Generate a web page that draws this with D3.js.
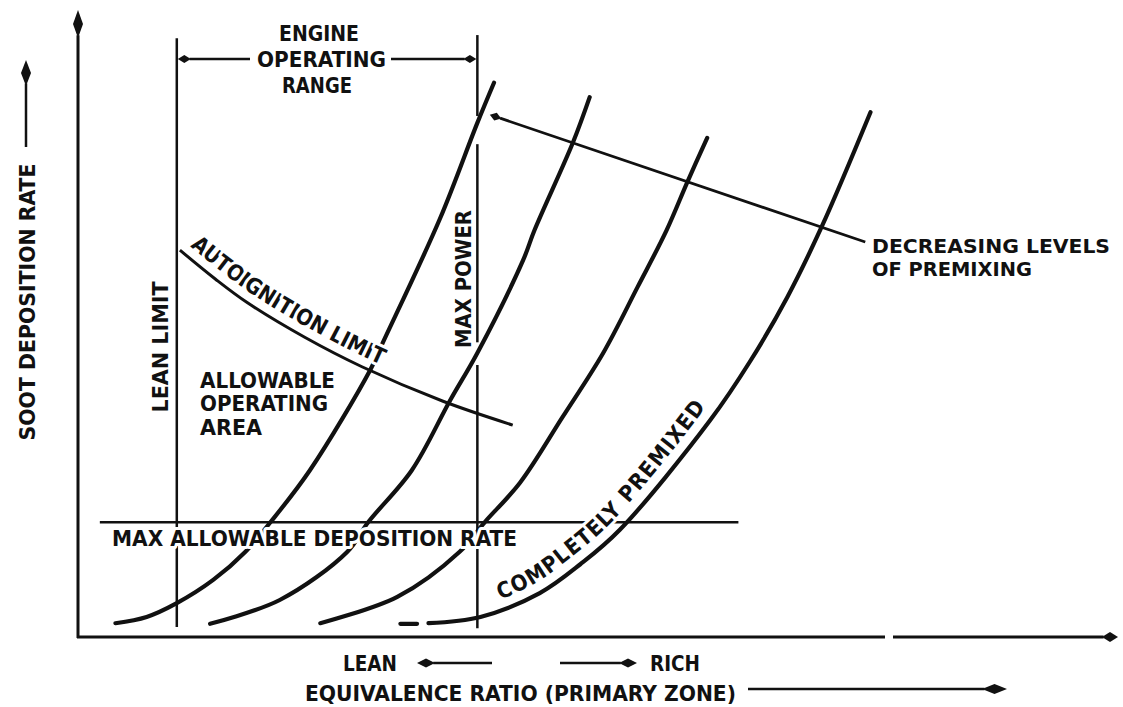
<!DOCTYPE html>
<html>
<head>
<meta charset="utf-8">
<title>Soot deposition rate vs equivalence ratio</title>
<script src="https://cdn.jsdelivr.net/npm/d3@7"></script>
<style>
  body { margin: 0; background: #fff; }
  svg text {
    font-family: "Liberation Sans Narrow", "DejaVu Sans Condensed", sans-serif;
    font-weight: bold;
    font-size: 22px;
    fill: #111;
  }
  .halo { paint-order: stroke; stroke: #fff; stroke-width: 6px; stroke-linejoin: round; }
</style>
</head>
<body>
<svg width="1123" height="707"></svg>
<script>
// arbitrary units: equivalence ratio 0-100 across, deposition rate 0-100 up
var curveA_phi  = [3.6, 6.6, 9.5, 13.0, 16.1, 18.5, 22.3, 28.1, 29.3, 34.8, 38.4, 40.0];
var curveA_rate = [2.2, 3.2, 5.4, 9.1, 13.6, 18.3, 26.6, 42.6, 46.9, 66.7, 82.0, 88.4];
var curveB_phi  = [12.7, 19.4, 25.9, 27.9, 32.1, 35.8, 38.4, 42.8, 43.9, 47.6, 49.2];
var curveB_rate = [2.1, 5.9, 13.6, 18.3, 26.6, 37.8, 45.3, 60.1, 64.9, 78.9, 86.1];
var curveC_phi  = [23.3, 30.7, 36.7, 39.1, 42.5, 46.6, 50.5, 53.8, 56.6, 58.6, 60.5];
var curveC_rate = [2.2, 6.4, 13.6, 18.3, 24.6, 35.1, 45.3, 55.8, 64.9, 72.6, 79.6];
var premixed_phi  = [33.7, 38.7, 44.4, 48.3, 52.1, 60.8, 64.6, 68.2, 71.5, 76.2];
var premixed_rate = [2.2, 3.2, 7.0, 11.6, 17.1, 34.6, 43.9, 54.2, 65.4, 83.7];
var premixedDash_phi = [31.0, 32.6];
var premixedDash_rate = [2.1, 2.1];

var autoignition_phi  = [9.8, 13.2, 16.3, 21.8, 27.3, 35.1, 41.8];
var autoignition_rate = [61.7, 57.1, 53.3, 47.8, 43.1, 37.6, 33.8];

var leanLimitPhi = 9.5;
var maxPowerPhi = 38.4;
var maxDepositionRate = 18.3;
var maxDepositionPhi = [2.1, 63.5];
var rangeArrowRate = 92.2;
var premixArrow_phi = [75.7, 39.6];
var premixArrow_rate = [63.0, 83.3];

var svg = d3.select('svg');
var x = d3.scaleLinear().domain([0, 100]).range([78, 1118]);
var y = d3.scaleLinear().domain([0, 100]).range([637, 10]);

function zip(a, b) { return a.map(function(v, i) { return [v, b[i]]; }); }

var line = d3.line()
  .x(function(d) { return x(d[0]); })
  .y(function(d) { return y(d[1]); })
  .curve(d3.curveCatmullRom.alpha(0.5));

function offsetLine(dx, dy) {
  return d3.line()
    .x(function(d) { return x(d[0]) + dx; })
    .y(function(d) { return y(d[1]) + dy; })
    .curve(d3.curveCatmullRom.alpha(0.5));
}

// straight line with a long dart-shaped head at (x2,y2)
function arrow(x1, y1, x2, y2, len, half, w) {
  var a = Math.atan2(y2 - y1, x2 - x1);
  var ux = Math.cos(a), uy = Math.sin(a);
  var px = -uy, py = ux;
  svg.append('line')
    .attr('x1', x1).attr('y1', y1)
    .attr('x2', x2 - ux * len * 0.9).attr('y2', y2 - uy * len * 0.9)
    .attr('stroke', '#111').attr('stroke-width', w);
  var bx = x2 - ux * len * 0.5, by = y2 - uy * len * 0.5;
  var pts = [[x2, y2], [bx + px * half, by + py * half],
             [x2 - ux * len, y2 - uy * len], [bx - px * half, by - py * half]];
  svg.append('path')
    .attr('d', 'M' + pts.join('L') + 'Z')
    .attr('fill', '#111');
}

// axes
arrow(x(0), y(0) + 1, x(0), y(100), 28, 5, 3);
svg.append('line')
  .attr('x1', x(0) - 1).attr('y1', y(0)).attr('x2', 885).attr('y2', y(0))
  .attr('stroke', '#111').attr('stroke-width', 3);
arrow(893, y(0), x(100), y(0), 16, 5, 3);

// lean limit and max power verticals
svg.append('line')
  .attr('x1', x(leanLimitPhi)).attr('x2', x(leanLimitPhi))
  .attr('y1', y(95.5)).attr('y2', y(1.6))
  .attr('stroke', '#111').attr('stroke-width', 2.5);
[[96, 83.1], [78.6, 47.0], [43.4, 1.4]].forEach(function(s) {
  svg.append('line')
    .attr('x1', x(maxPowerPhi)).attr('x2', x(maxPowerPhi))
    .attr('y1', y(s[0])).attr('y2', y(s[1]))
    .attr('stroke', '#111').attr('stroke-width', 2.5);
});

// engine operating range arrows
arrow(250, y(rangeArrowRate), x(leanLimitPhi) + 1, y(rangeArrowRate), 13, 4, 2.5);
arrow(391, y(rangeArrowRate), x(maxPowerPhi) - 1, y(rangeArrowRate), 13, 4, 2.5);

// max allowable deposition rate
svg.append('line')
  .attr('x1', x(maxDepositionPhi[0])).attr('x2', x(maxDepositionPhi[1]))
  .attr('y1', y(maxDepositionRate)).attr('y2', y(maxDepositionRate))
  .attr('stroke', '#111').attr('stroke-width', 2.5);

// autoignition limit
svg.append('path')
  .attr('d', line(zip(autoignition_phi, autoignition_rate)))
  .attr('fill', 'none').attr('stroke', '#111').attr('stroke-width', 3);

// decreasing premixing arrow
arrow(x(premixArrow_phi[0]), y(premixArrow_rate[0]), x(premixArrow_phi[1]), y(premixArrow_rate[1]), 12, 4, 2.8);

// soot curves
[zip(curveA_phi, curveA_rate), zip(curveB_phi, curveB_rate),
 zip(curveC_phi, curveC_rate), zip(premixed_phi, premixed_rate),
 zip(premixedDash_phi, premixedDash_rate)].forEach(function(c) {
  svg.append('path')
    .attr('d', line(c))
    .attr('fill', 'none').attr('stroke', '#111')
    .attr('stroke-width', 4.2).attr('stroke-linecap', 'round');
});

// labels
function label(txt, x0, yc, len) {
  svg.append('text').attr('class', 'halo')
    .attr('x', x0).attr('y', yc)
    .attr('dominant-baseline', 'central')
    .attr('textLength', len).attr('lengthAdjust', 'spacingAndGlyphs')
    .text(txt);
}
function vlabel(txt, xc, yc, len) {
  svg.append('text').attr('class', 'halo')
    .attr('transform', 'translate(' + xc + ',' + yc + ') rotate(-90)')
    .attr('text-anchor', 'middle')
    .attr('dominant-baseline', 'central')
    .attr('textLength', len).attr('lengthAdjust', 'spacingAndGlyphs')
    .text(txt);
}

label('ENGINE', 279, 33, 80);
label('OPERATING', 257, 59, 129);
label('RANGE', 282, 85, 70);
label('ALLOWABLE', 200, 380, 135);
label('OPERATING', 200, 403, 128);
label('AREA', 200, 427, 62);
label('MAX ALLOWABLE DEPOSITION RATE', 112, 538, 405);
label('LEAN', 343, 663, 54);
label('RICH', 650, 663, 50);
label('EQUIVALENCE RATIO (PRIMARY ZONE)', 305, 693, 431);

var dec = svg.append('text').attr('class', 'halo').style('font-size', '19px');
dec.append('tspan').attr('x', 872).attr('y', 253)
  .attr('textLength', 238).attr('lengthAdjust', 'spacingAndGlyphs')
  .text('DECREASING LEVELS');
dec.append('tspan').attr('x', 872).attr('y', 276)
  .attr('textLength', 160).attr('lengthAdjust', 'spacingAndGlyphs')
  .text('OF PREMIXING');

vlabel('SOOT DEPOSITION RATE', 27, 302, 277);
vlabel('LEAN LIMIT', 160, 347, 131);
vlabel('MAX POWER', 463, 279, 138);

arrow(26, 147, 26, 60, 26, 5, 2.5);
arrow(492, 663, 417, 663, 18, 4.5, 2.5);
arrow(560, 663, 637, 663, 18, 4.5, 2.5);
arrow(748, 689, 1007, 689, 25, 5, 2.5);

// text along curves
var defs = svg.append('defs');
defs.append('path').attr('id', 'autoPath')
  .attr('d', offsetLine(4, -9)(zip(autoignition_phi, autoignition_rate)));
defs.append('path').attr('id', 'premixPath')
  .attr('d', offsetLine(-8, -8)(zip(premixed_phi, premixed_rate)));

svg.append('text').attr('class', 'halo')
  .append('textPath').attr('href', '#autoPath')
  .attr('startOffset', 8)
  .attr('textLength', 226).attr('lengthAdjust', 'spacing')
  .text('AUTOIGNITION LIMIT');

svg.append('text').attr('class', 'halo')
  .append('textPath').attr('href', '#premixPath')
  .attr('startOffset', 82)
  .attr('textLength', 285).attr('lengthAdjust', 'spacing')
  .text('COMPLETELY PREMIXED');
</script>
</body>
</html>
